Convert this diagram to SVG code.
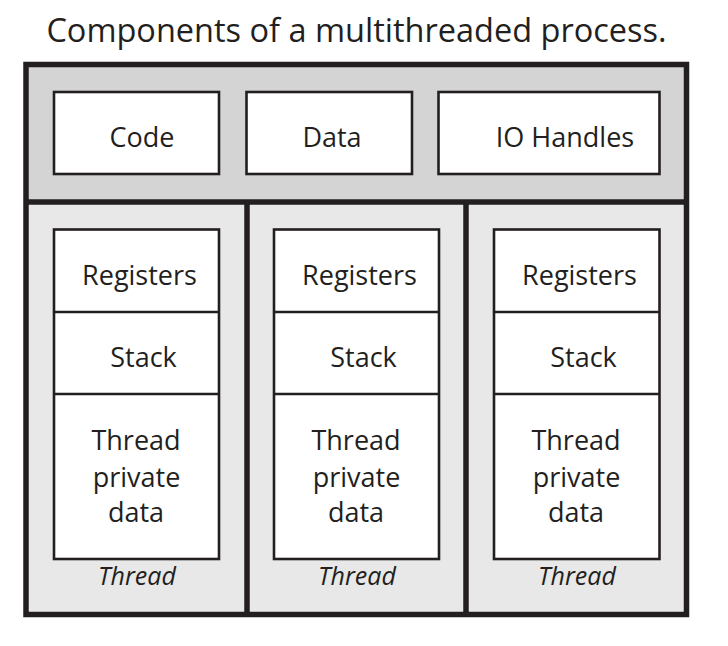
<svg xmlns="http://www.w3.org/2000/svg" width="728" height="646" viewBox="0 0 728 646">
<style>
.t{font-family:"Open Sans","Noto Sans",sans-serif;fill:#231f20;text-anchor:middle;font-size:27px}
.ti{font-style:italic;font-size:25px}
.title{font-size:32.5px}
.box{fill:#fff;stroke:#231f20;stroke-width:2.6}
.ln{stroke:#231f20;stroke-width:2.6}
.thick{stroke:#231f20;stroke-width:5.5;fill:none}
</style>
<rect width="728" height="646" fill="#fff"/>
<text class="t title" x="356.5" y="42">Components of a multithreaded process.</text>
<g id="process">
<rect x="26" y="64.5" width="660.5" height="137.5" fill="#d4d4d4"/>
<rect x="26" y="202" width="660.5" height="412.5" fill="#e8e8e8"/>
</g>
<g id="connectors">
<line class="thick" x1="26" y1="202" x2="686.5" y2="202"/>
<line class="thick" x1="247" y1="202" x2="247" y2="614.5"/>
<line class="thick" x1="466" y1="202" x2="466" y2="614.5"/>
<rect class="thick" x="26" y="64.5" width="660.5" height="550"/>
</g>
<g id="code"><rect class="box" x="54" y="92" width="165" height="82"/><text class="t" x="142" y="146.5">Code</text></g>
<g id="data"><rect class="box" x="246.5" y="92" width="165.5" height="82"/><text class="t" x="332" y="146.5">Data</text></g>
<g id="io"><rect class="box" x="438.5" y="92" width="221" height="82"/><text class="t" x="565" y="146.5">IO Handles</text></g>
<g id="thread1">
<rect class="box" x="54" y="229.5" width="165" height="329.5"/>
<line class="ln" x1="54" y1="312" x2="219" y2="312"/>
<line class="ln" x1="54" y1="394" x2="219" y2="394"/>
<text class="t" x="139.5" y="285">Registers</text>
<text class="t" x="143.5" y="367">Stack</text>
<text class="t" x="136" y="450">Thread</text>
<text class="t" x="136.5" y="486.5">private</text>
<text class="t" x="136" y="522">data</text>
<text class="t ti" x="137" y="585">Thread</text>
</g>
<g id="thread2">
<rect class="box" x="274" y="229.5" width="165" height="329.5"/>
<line class="ln" x1="274" y1="312" x2="439" y2="312"/>
<line class="ln" x1="274" y1="394" x2="439" y2="394"/>
<text class="t" x="359.5" y="285">Registers</text>
<text class="t" x="363.5" y="367">Stack</text>
<text class="t" x="356" y="450">Thread</text>
<text class="t" x="356.5" y="486.5">private</text>
<text class="t" x="356" y="522">data</text>
<text class="t ti" x="357" y="585">Thread</text>
</g>
<g id="thread3">
<rect class="box" x="494" y="229.5" width="165.5" height="329.5"/>
<line class="ln" x1="494" y1="312" x2="659.5" y2="312"/>
<line class="ln" x1="494" y1="394" x2="659.5" y2="394"/>
<text class="t" x="579.5" y="285">Registers</text>
<text class="t" x="583.5" y="367">Stack</text>
<text class="t" x="576" y="450">Thread</text>
<text class="t" x="576.5" y="486.5">private</text>
<text class="t" x="576" y="522">data</text>
<text class="t ti" x="577" y="585">Thread</text>
</g>
</svg>
